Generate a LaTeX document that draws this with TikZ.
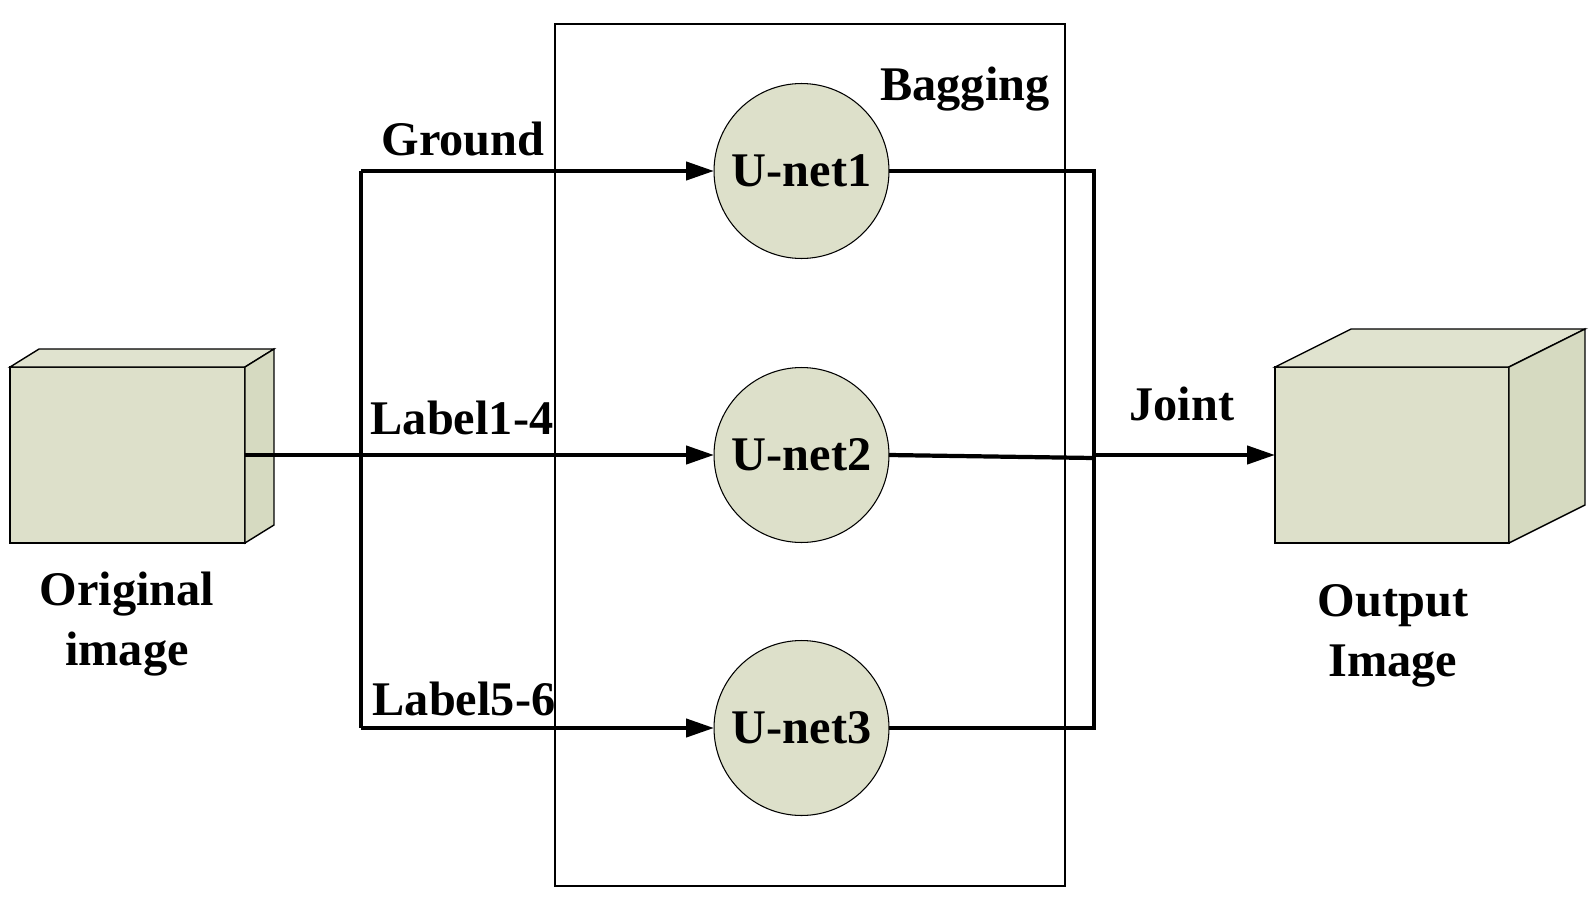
\documentclass[tikz,border=0pt]{standalone}
\usepackage{fontspec}
\setmainfont{Liberation Serif}
\usetikzlibrary{arrows.meta,positioning}
\definecolor{boxfill}{RGB}{221,224,202}
\definecolor{boxside}{RGB}{214,218,193}
\definecolor{boxtop}{RGB}{224,227,207}

\begin{document}
\begin{tikzpicture}[x=0.02cm,y=-0.02cm]
    \tikzstyle{every node}=[font=\fontsize{27.5}{34}\selectfont\bfseries]
    \tikzstyle{flow}=[line width=2.4pt,line join=miter]
    \tikzstyle{flowarrow}=[flow,-{Triangle[length=0.56cm,width=0.36cm]}]
    \tikzstyle{unet}=[circle,draw,fill=boxfill,line width=0.6pt,minimum size=3.5cm,inner sep=0pt,outer sep=0pt]
    \tikzstyle{facebox}=[draw,fill=boxfill,line width=0.8pt,outer sep=0pt,inner sep=0pt]

    \useasboundingbox (0,0) rectangle (1595,906);

    % bagging frame
    \draw[line width=0.8pt] (555,24) rectangle (1065,886);
    \node (bagging) at (965,89) {Bagging};

    % input and output blocks
    \node[facebox,minimum width=4.7cm,minimum height=3.52cm] (orig) at (127.5,455) {};
    \filldraw[fill=boxtop,line width=0.8pt] (orig.north west) -- ++(29,-18) -- ++(235,0) -- (orig.north east) -- cycle;
    \filldraw[fill=boxside,line width=0.8pt] (orig.north east) -- ++(29,-18) -- ++(0,176) -- (orig.south east) -- cycle;
    \node[align=center] (origtext) at (127,624) {Original\\image};

    \node[facebox,minimum width=4.68cm,minimum height=3.52cm] (out) at (1392,455) {};
    \filldraw[fill=boxtop,line width=0.8pt] (out.north west) -- ++(76,-38) -- ++(234,0) -- (out.north east) -- cycle;
    \filldraw[fill=boxside,line width=0.8pt] (out.north east) -- ++(76,-38) -- ++(0,176) -- (out.south east) -- cycle;
    \node[align=center] (outtext) at (1393,636) {Output\\Image};

    % the three networks
    \node[unet] (unet1) at (801.5,171) {U-net1};
    \node[unet] (unet2) at (801.5,455) {U-net2};
    \node[unet] (unet3) at (801.5,728) {U-net3};

    \coordinate (split1) at (361,171);
    \coordinate (split3) at (361,728);
    \coordinate (join1) at (1094,171);
    \coordinate (join2) at (1094,458);
    \coordinate (join3) at (1094,728);

    \draw[flow] (split1) -- (split3);
    \draw[flowarrow] (split1) -- (unet1.west);
    \draw[flowarrow] (orig.east) -- (unet2.west);
    \draw[flowarrow] (split3) -- (unet3.west);

    \draw[flow] (unet1.east) -- (join1) -- (join3) -- (unet3.east);
    \draw[flow] (unet2.east) -- (join2);
    \draw[flowarrow] (join2 |- out.west) -- (out.west);

    \node (ground) at (463,139) {Ground};
    \node (lab14) at (462,418) {Label1-4};
    \node (lab56) at (464,699) {Label5-6};
    \node (joint) at (1182,404) {Joint};
\end{tikzpicture}
\end{document}
